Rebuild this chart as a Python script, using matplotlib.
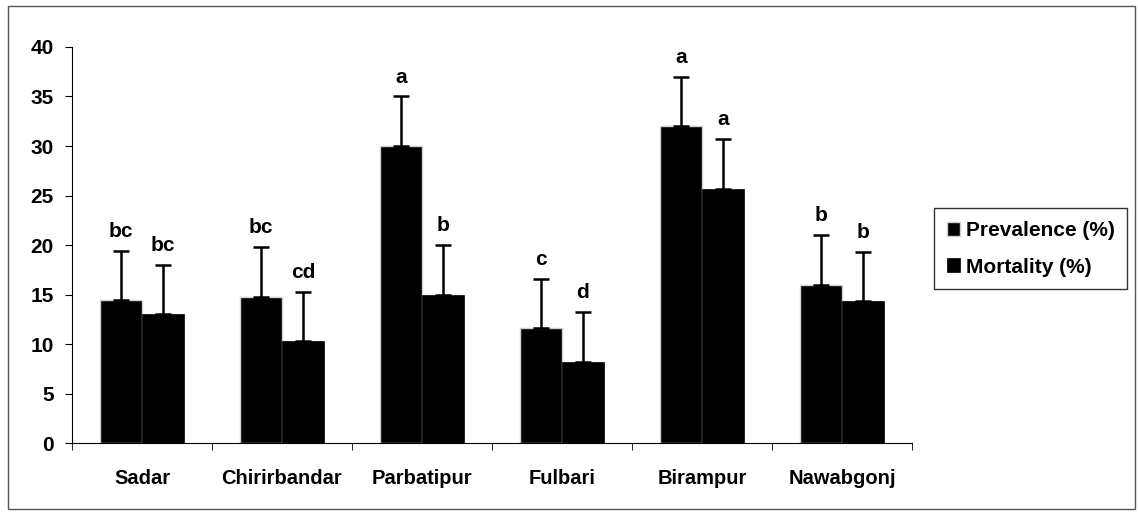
import numpy as np
from matplotlib import pyplot as plt
from matplotlib.patches import Rectangle

plt.rcParams['font.family'] = ['Liberation Sans', 'DejaVu Sans']
plt.rcParams['font.weight'] = 'bold'

places = ["Sadar", "Chirirbandar", "Parbatipur", "Fulbari", "Birampur", "Nawabgonj"]
prevalence = [14.4, 14.8, 30.0, 11.6, 32.0, 16.0]
mortality = [13.0, 10.3, 15.0, 8.2, 25.7, 14.3]
prevErr = [5, 5, 5, 5, 5, 5]
mortErr = [5, 5, 5, 5, 5, 5]
prevLetters = ["bc", "bc", "a", "c", "a", "b"]
mortLetters = ["bc", "cd", "b", "d", "a", "b"]

fig = plt.figure(figsize=(11.38, 5.14), dpi=100)
ax = fig.add_axes([0.0633, 0.138, 0.738, 0.7706])

x = np.arange(len(places))
w = 0.3
ax.bar(x - w/2, prevalence, w, color="black", edgecolor="#d0d0d0", linewidth=1.0,
       yerr=[np.zeros(len(x)), prevErr], capsize=6, error_kw=dict(elinewidth=1.8, capthick=1.8),
       label="Prevalence (%)")
ax.bar(x + w/2, mortality, w, color="black", edgecolor="black", linewidth=0.5,
       yerr=[np.zeros(len(x)), mortErr], capsize=6, error_kw=dict(elinewidth=1.8, capthick=1.8),
       label="Mortality (%)")

for i in range(len(x)):
    ax.text(x[i] - w/2, prevalence[i] + prevErr[i] + 1.0, prevLetters[i], ha="center", va="bottom", fontsize=15, fontweight="bold")
    ax.text(x[i] + w/2, mortality[i] + mortErr[i] + 1.0, mortLetters[i], ha="center", va="bottom", fontsize=15, fontweight="bold")

ax.set_xlim(-0.5, len(places) - 0.5)
ax.set_ylim(0, 40)
ax.set_yticks(range(0, 41, 5))
ax.set_xticks(x)
ax.set_xticklabels(places)
ax.set_xticks(np.arange(-0.5, len(places), 1), minor=True)
ax.tick_params(axis="x", which="major", length=0, pad=19, labelsize=14.5)
ax.tick_params(axis="x", which="minor", length=5, direction="out")
ax.tick_params(axis="y", length=5, pad=8, labelsize=15)
ax.spines["top"].set_visible(False)
ax.spines["right"].set_visible(False)

fig.legend(loc="center left", bbox_to_anchor=(0.821, 0.516), fontsize=15, frameon=True,
           fancybox=False, edgecolor="black", handlelength=0.65, handleheight=0.65,
           handletextpad=0.25, borderpad=0.6, borderaxespad=0, labelspacing=0.85)

fig.patches.append(Rectangle((0.007, 0.01), 0.99, 0.978, transform=fig.transFigure,
                             fill=False, edgecolor="#555555", linewidth=1.0))

plt.savefig("out.png")
